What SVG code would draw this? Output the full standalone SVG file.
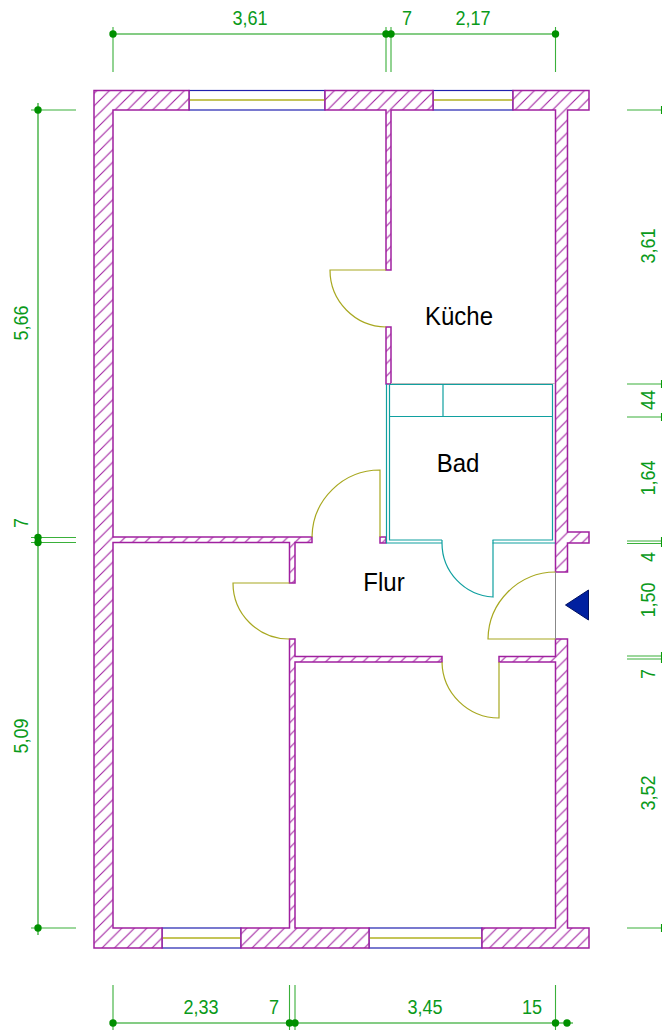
<svg xmlns="http://www.w3.org/2000/svg" width="662" height="1032" viewBox="0 0 662 1032">
<style>
text{font-family:"Liberation Sans",Arial,sans-serif}
.d{font-size:20.500px;fill:#0a9a1a;text-anchor:middle}
.r{font-size:25px;fill:#000;text-anchor:middle}
.dl{stroke:#0a9a0a;stroke-width:1.100;fill:none}
.t{stroke:#3ab03a;stroke-width:1.100;fill:none}
.dot{fill:#009000}
.wall{fill:url(#h);stroke:#a020a0;stroke-width:1.500}
.win{stroke:#2020b0;stroke-width:1.200;fill:#fff}
.sash{stroke:#b0b020;stroke-width:1.300;fill:none}
.door{stroke:#a8a820;stroke-width:1.200;fill:none}
.bad{stroke:#10a0a0;stroke-width:1.200;fill:none}
</style>
<defs><pattern id="h" width="12.500" height="12.500" patternUnits="userSpaceOnUse"><rect width="12.500" height="12.500" fill="#fff"/><path d="M-1 13.500L13.500-1M-1 1L1-1M11.500 13.500L13.500 11.500" stroke="#a020a0" stroke-width="1.100"/></pattern></defs>
<g id="connectors">
<path class="dl" d="M113 34H555.500"/>
<path class="t" d="M113 27V72M386 27V72M391 27V72M555.500 27V72"/>
<path class="dl" d="M38 103V935"/>
<path class="t" d="M31 110H76M31 537.500H76M31 542.500H76M31 928H76"/>
<path class="dl" d="M113 1023H573"/>
<path class="t" d="M113 985V1030M289.500 985V1030M295 985V1030M555.500 985V1030"/>
<path class="t" d="M627 110H662M627 384H662M627 417H662M627 541H662M627 543.500H662M627 656H662M627 659H662M627 928H662"/>
<path class="dl" d="M661.500 106V114M661.500 380V388M661.500 413V421M661.500 537V547M661.500 652V663M661.500 924V932"/>
<g class="dot"><circle cx="113" cy="34" r="3.700"/><circle cx="386" cy="34" r="3.700"/><circle cx="391" cy="34" r="3.700"/><circle cx="555.500" cy="34" r="3.700"/>
<circle cx="38" cy="110" r="3.700"/><circle cx="38" cy="537.500" r="3.700"/><circle cx="38" cy="542.500" r="3.700"/><circle cx="38" cy="928" r="3.700"/>
<circle cx="113" cy="1023" r="3.700"/><circle cx="289.500" cy="1023" r="3.700"/><circle cx="295" cy="1023" r="3.700"/><circle cx="555.500" cy="1023" r="3.700"/><circle cx="567" cy="1023" r="3.700"/></g>
</g>
<g id="walls">
<rect class="win" x="189" y="90.500" width="136" height="19.500"/><path class="sash" d="M189 100H325"/>
<rect class="win" x="433" y="90.500" width="80" height="19.500"/><path class="sash" d="M433 100H513"/>
<rect class="win" x="162" y="928" width="79" height="20"/><path class="sash" d="M162 938H241" stroke-width="2"/>
<rect class="win" x="369" y="928" width="113" height="20"/><path class="sash" d="M369 938H482" stroke-width="2"/>
<path class="wall" d="M94 90.500H189V110H113V537H312V542.500H295V583H289.500V542.500H113V928H162V948H94Z"/>
<path class="wall" d="M325 90.500H433V110H391V270H386V110H325Z"/>
<path class="wall" d="M513 90.500H589V110H567.500V532H589V543H567.500V572H555.500V110H513Z"/>
<path class="wall" d="M386 327H391V384H386Z"/>
<path class="wall" d="M380 537H386V543H380Z"/>
<path class="wall" d="M241 928H289.500V639H295V656.500H442V662H295V928H369V948H241Z"/>
<path class="wall" d="M482 928H555.500V662H499V656.500H555.500V639H567.500V928H589V948H482Z"/>
</g>
<g id="doors">
<path class="door" d="M386 270H330A57 57 0 0 0 386 327"/>
<path class="door" d="M312 537A68 68 0 0 1 380 470V537"/>
<path class="door" d="M289.500 583H233A56 56 0 0 0 289.500 639"/>
<path class="door" d="M555.500 572A68 68 0 0 0 488 639H555.500"/>
<path class="door" d="M442 662A57 57 0 0 0 499 718V662"/>
<path d="M555.500 572V639" stroke="#888" stroke-width="1" fill="none"/>
</g>
<g id="bad">
<path class="bad" d="M386.500 384V543H442M389.500 384.500V540H442M492.500 543H555M492.500 540H552.500V384.500H389.500M389.500 416.500H552.500M443 384.500V416.500"/>
<path class="bad" d="M442 540V543A54 54 0 0 0 493 597V540"/>
<path d="M391 383.500H555" stroke="#bbb" stroke-width="1.200"/>
</g>
<path id="entry" d="M565.500 605L588.500 590V620Z" fill="#0020a0" stroke="#001060"/>
<g id="labels">
<text class="d" transform="translate(250 25) scale(.88 1)">3,61</text><text class="d" transform="translate(407 25) scale(.88 1)">7</text><text class="d" transform="translate(473 25) scale(.88 1)">2,17</text>
<text class="d" transform="translate(201 1014) scale(.88 1)">2,33</text><text class="d" transform="translate(274 1014) scale(.88 1)">7</text><text class="d" transform="translate(425 1014) scale(.88 1)">3,45</text><text class="d" transform="translate(532 1014) scale(.88 1)">15</text>
<text class="d" transform="translate(28 323) rotate(-90) scale(.88 1)">5,66</text><text class="d" transform="translate(28 523) rotate(-90) scale(.88 1)">7</text><text class="d" transform="translate(28 736) rotate(-90) scale(.88 1)">5,09</text>
<text class="d" transform="translate(655 246) rotate(-90) scale(.88 1)">3,61</text><text class="d" transform="translate(655 400) rotate(-90) scale(.88 1)">44</text><text class="d" transform="translate(655 478) rotate(-90) scale(.88 1)">1,64</text><text class="d" transform="translate(655 557) rotate(-90) scale(.88 1)">4</text><text class="d" transform="translate(655 600) rotate(-90) scale(.88 1)">1,50</text><text class="d" transform="translate(655 674) rotate(-90) scale(.88 1)">7</text><text class="d" transform="translate(655 793) rotate(-90) scale(.88 1)">3,52</text>
<text class="r" transform="translate(459 325) scale(.96 1)">Küche</text><text class="r" transform="translate(458 472) scale(.96 1)">Bad</text><text class="r" transform="translate(384 591) scale(.96 1)">Flur</text>
</g>
</svg>
